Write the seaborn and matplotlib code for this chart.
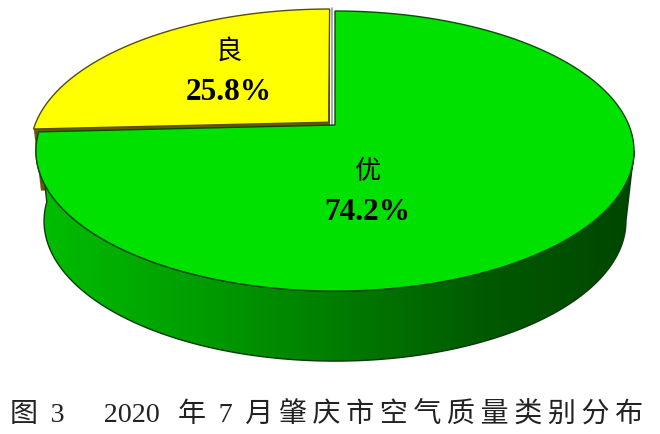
import numpy as np
import seaborn as sns
import matplotlib.pyplot as plt
from matplotlib.colors import ListedColormap
from matplotlib.path import Path
from matplotlib.patches import Polygon
from matplotlib.transforms import Affine2D

categories = ["优", "良"]
shares = [74.2, 25.8]
explode = [0, 0.03]
slice_colors = ["#00e100", "#ffff00"]
wall_colors = ["#00be00", "#00a000", "#007d00", "#005a00", "#004600"]
caption = ("图\u2009 3\u2003\u2009\u20092020\u2009\u2009 年\u2009 7\u2009 月\u2009"
           "肇\u2009庆\u2009市\u2009空\u2009气\u2009质\u2009量\u2009类\u2009别\u2009分\u2009布")

sns.set_theme(style="white")
plt.rcParams["font.family"] = ["Liberation Serif", "Noto Sans CJK SC"]

# perspective of the disc, in pixels of the picture
CX, CY = 335, 125
K, A, B = 0.186, 135.2, 293.8
DEPTH, SHRINK = 70, 0.027


def project(xy):
    w = 1 + K * xy[:, 1]
    return np.column_stack([CX + B * xy[:, 0] / w, CY - A * xy[:, 1] / w])


def extrude(pts, t):
    return np.column_stack([CX + (pts[:, 0] - CX) * (1 - SHRINK * t), pts[:, 1] + DEPTH * t])


fig = plt.figure(figsize=(6.6, 4.34), dpi=100)
ax = fig.add_axes([0, 0, 1, 1])
wedges = ax.pie(shares, explode=explode, startangle=90, counterclock=False)[0]

faces = []
for w in wedges:
    path = w.get_path().transformed(w.get_patch_transform() + Affine2D().scale(2000))
    poly = Path(path.vertices, path.codes).to_polygons(closed_only=True)[0] / 2000
    faces.append(project(poly))
    w.remove()

ax.set_aspect("auto")
ax.set_xlim(0, 660)
ax.set_ylim(434, 0)
ax.axis("off")

green, yellow = faces

# yellow slice: brown side, then top face
for t in np.linspace(0.88, 0, 50):
    ax.add_patch(Polygon(extrude(yellow, t), fc="#6e5500", ec="none", zorder=1))
ax.add_patch(Polygon(yellow, fc=slice_colors[1], ec="#55500a", lw=1, zorder=2))

# green slice: gradient wall cut to the lower rim
rim = green[:np.argmax(green[:, 0]) + 1]
rim = rim[np.hypot(rim[:, 0] - CX, rim[:, 1] - CY) > 100]
wall = np.vstack([rim, extrude(rim, 1)[::-1]])
wall_patch = Polygon(wall, fc="none", ec="#0a3c0a", lw=1, zorder=3.1)
ax.add_patch(wall_patch)
cmap = ListedColormap(sns.blend_palette(wall_colors, 256))
img = ax.imshow(np.linspace(0, 1, 256)[None, :], cmap=cmap, aspect="auto",
                extent=(36, 634, 434, 0), zorder=3)
img.set_clip_path(wall_patch)
ax.set_xlim(0, 660)
ax.set_ylim(434, 0)
ax.add_patch(Polygon(green, fc=slice_colors[0], ec="#0a4a0a", lw=1, zorder=4))

# white gap between the two slices
ax.plot([332, 332], [8, 126], color="#9a9aa8", lw=1.2, zorder=1.5)

label_xy = [(367, 213), (229, 92)]
for name, val, (x, y) in zip(categories, shares, label_xy):
    ax.text(x, y - 41, name, ha="center", va="center", fontsize=19, color="black", zorder=5)
    ax.text(x, y, f"{val:.1f}%", ha="center", va="center", fontsize=22.5,
            fontweight="bold", color="black", zorder=5)

ax.text(10, 414, caption, ha="left", va="center", fontsize=20.2, color="#222222")

fig.savefig("out.png", dpi=100)
